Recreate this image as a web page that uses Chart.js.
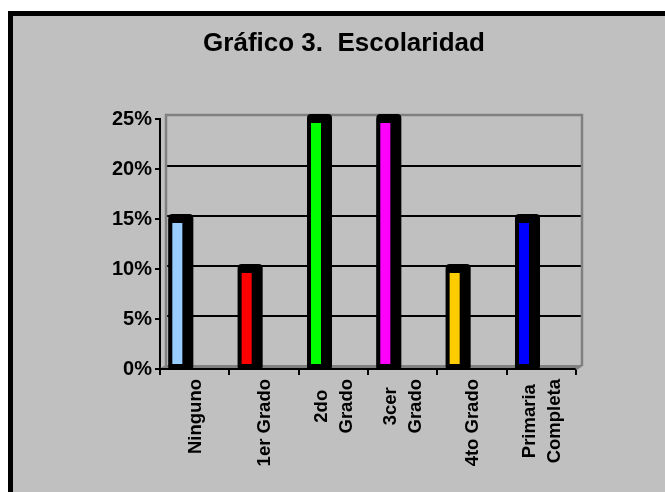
<!DOCTYPE html>
<html>
<head>
<meta charset="utf-8">
<script src="https://cdn.jsdelivr.net/npm/chart.js@4.4.0/dist/chart.umd.min.js"></script>
<style>
  html, body { margin: 0; padding: 0; background: #ffffff; }
  canvas { display: block; }
</style>
</head>
<body>
<canvas id="c" width="665" height="492"></canvas>
<script>
const categories = ['Ninguno', '1er Grado', ['2do', 'Grado'], ['3cer', 'Grado'], '4to Grado', ['Primaria', 'Completa']];
const values = [15, 10, 25, 25, 10, 15];
const barColors = ['#99CCFF', '#FF0000', '#00FF00', '#FF00FF', '#FFCC00', '#0000FF'];
const yTickLabels = ['0%', '5%', '10%', '15%', '20%', '25%'];
const titleText = 'Gráfico 3.  Escolaridad';

const FONT = '"Liberation Sans", Arial, sans-serif';

const backgroundPlugin = {
  id: 'bg',
  beforeDraw(chart) {
    const ctx = chart.ctx;
    ctx.save();
    ctx.fillStyle = '#ffffff';
    ctx.fillRect(0, 0, chart.width, chart.height);
    ctx.fillStyle = '#000000';
    ctx.fillRect(8, 11, chart.width - 8, chart.height - 11);
    ctx.fillStyle = '#C0C0C0';
    ctx.fillRect(13, 16, chart.width - 13, chart.height - 16);
    ctx.restore();
  }
};

const wallPlugin = {
  id: 'wall',
  beforeDatasetsDraw(chart) {
    const ctx = chart.ctx;
    const a = chart.chartArea;
    const ys = chart.scales.y;
    const dx = 6, dy = -3;
    ctx.save();
    // floor
    ctx.fillStyle = '#808080';
    ctx.beginPath();
    ctx.moveTo(a.left, a.bottom - 1);
    ctx.lineTo(a.left + dx, a.bottom + dy - 1);
    ctx.lineTo(a.right + dx, a.bottom + dy - 1);
    ctx.lineTo(a.right, a.bottom - 1);
    ctx.closePath();
    ctx.fill();
    // grid lines
    ctx.strokeStyle = '#000000';
    ctx.lineWidth = 2;
    ys.ticks.forEach(t => {
      if (t.value <= ys.min || t.value >= ys.max) return;
      const y = Math.round(ys.getPixelForValue(t.value) + dy);
      ctx.beginPath();
      ctx.moveTo(a.left + dx, y);
      ctx.lineTo(a.right + dx, y);
      ctx.stroke();
    });
    // wall edges
    ctx.strokeStyle = '#808080';
    ctx.lineWidth = 2.5;
    ctx.beginPath();
    ctx.moveTo(a.left + dx, a.bottom + dy);
    ctx.lineTo(a.left + dx, a.top + dy - 1);
    ctx.lineTo(a.right + dx, a.top + dy - 1);
    ctx.lineTo(a.right + dx, a.bottom + dy - 1);
    ctx.lineTo(a.right, a.bottom);
    ctx.stroke();
    // bar depth (from the library's bar elements)
    const meta = chart.getDatasetMeta(0);
    ctx.fillStyle = '#000000';
    meta.data.forEach(bar => {
      const p = bar.getProps(['x', 'y', 'base', 'width'], true);
      const l = p.x - p.width / 2, r = p.x + p.width / 2 + 7;
      const t = p.y - 5, b = p.base + 2;
      ctx.beginPath();
      if (ctx.roundRect) ctx.roundRect(l, t, r - l, b - t, 4);
      else ctx.rect(l, t, r - l, b - t);
      ctx.fill();
    });
    ctx.restore();
  }
};

// Category labels: rotated, multi-line labels centred on their longest line
const xLabelPlugin = {
  id: 'xlabels',
  afterDraw(chart) {
    const ctx = chart.ctx;
    const xs = chart.scales.x;
    const top = chart.chartArea.bottom + 10;
    const lineGap = 25;
    ctx.save();
    ctx.font = 'bold 18.5px ' + FONT;
    ctx.fillStyle = '#000000';
    ctx.textBaseline = 'middle';
    xs.ticks.forEach((t, i) => {
      const lab = categories[i];
      const lines = Array.isArray(lab) ? lab : [lab];
      const maxW = Math.max(...lines.map(s => ctx.measureText(s).width));
      const cx = xs.getPixelForTick(i);
      const cy = top + maxW / 2;
      lines.forEach((s, k) => {
        const lx = cx + (k - (lines.length - 1) / 2) * lineGap;
        ctx.save();
        ctx.translate(lx, cy);
        ctx.rotate(-Math.PI / 2);
        ctx.textAlign = 'center';
        ctx.fillText(s, 0, 1);
        ctx.restore();
      });
    });
    ctx.restore();
  }
};

new Chart(document.getElementById('c'), {
  type: 'bar',
  data: {
    labels: categories,
    datasets: [
      {
        data: values,
        backgroundColor: barColors,
        borderColor: '#000000',
        borderWidth: 4,
        borderSkipped: false,
        categoryPercentage: 1,
        barPercentage: 0.52
      },
      {
        data: values.map(() => null),
        backgroundColor: 'rgba(0,0,0,0)',
        categoryPercentage: 1,
        barPercentage: 0.52
      }
    ]
  },
  options: {
    responsive: false,
    animation: false,
    events: [],
    layout: { padding: { left: 112, right: 89, top: 18, bottom: 10 } },
    plugins: {
      legend: { display: false },
      tooltip: { enabled: false },
      title: {
        display: true,
        text: titleText,
        color: '#000000',
        font: { family: FONT, size: 26, weight: 'bold', lineHeight: 1.2 },
        padding: { top: 10, bottom: 59.8 }
      }
    },
    scales: {
      x: {
        offset: true,
        grid: {
          display: true,
          offset: true,
          drawOnChartArea: false,
          drawTicks: true,
          tickLength: 6,
          color: '#000000',
          lineWidth: 2
        },
        border: { display: true, color: '#000000', width: 2 },
        ticks: {
          autoSkip: false,
          display: false
        },
        afterFit(s) { s.height = 113; }
      },
      y: {
        min: 0,
        max: 25,
        ticks: {
          stepSize: 5,
          padding: 3,
          color: '#000000',
          font: { family: FONT, size: 20, weight: 'bold' },
          callback: (v, i) => yTickLabels[i]
        },
        grid: {
          display: true,
          drawOnChartArea: false,
          drawTicks: true,
          tickLength: 5,
          color: '#000000',
          lineWidth: 2
        },
        border: { display: true, color: '#000000', width: 2 },
        afterFit(s) { s.width = 48; }
      }
    }
  },
  plugins: [backgroundPlugin, wallPlugin, xLabelPlugin]
});
</script>
</body>
</html>
